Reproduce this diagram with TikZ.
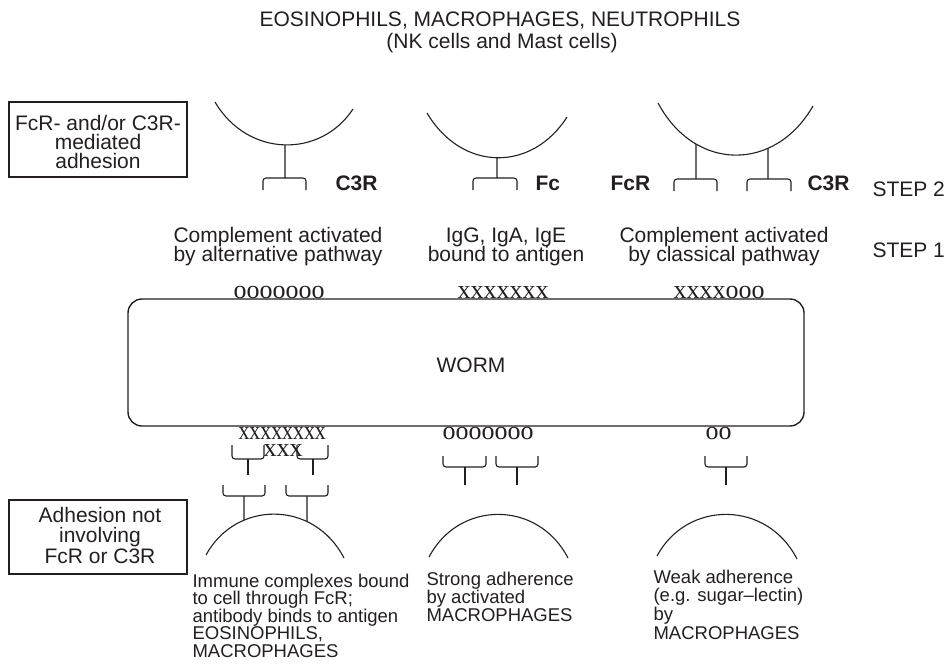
\documentclass[tikz,border=0pt]{standalone}
\usepackage{fontspec}
\setmainfont{Liberation Sans}
\newfontfamily\serifch{Liberation Serif}
\usetikzlibrary{intersections}
\definecolor{ink}{RGB}{35,31,32}
\tikzset{
  lbl/.style={font=\fontsize{21}{19}\selectfont, inner sep=0pt, anchor=base},
  lblw/.style={lbl, anchor=base west},
  sm/.style={font=\fontsize{18.5}{17.5}\selectfont, inner sep=0pt, anchor=base west},
  bl/.style={font=\bfseries\fontsize{21}{19}\selectfont, inner sep=0pt, anchor=base west},
  ser/.style={font=\serifch\fontsize{26}{26}\selectfont, inner sep=0pt, anchor=base west},
  brk/.style={rounded corners=3pt},
  labelbox/.style={draw, line width=1.1pt, inner sep=0pt, minimum width=178pt},
}
\begin{document}
\begin{tikzpicture}[x=1pt, y=-1pt, color=ink, line width=1.1pt]
\useasboundingbox (0,0) rectangle (952,664);

% title
\node[lbl] (t1) at (500,26) {EOSINOPHILS, MACROPHAGES, NEUTROPHILS};
\node[lbl] (t2) at (502,48) {(NK cells and Mast cells)};

% upper label box
\node[labelbox, minimum height=75pt] (box1) at (98,139.5) {};
\node[lbl] (b1a) at (98,130) {FcR- and/or C3R-};
\node[lbl] (b1b) at (98,149) {mediated};
\node[lbl] (b1c) at (98,168) {adhesion};

% lower label box
\node[labelbox, minimum height=74pt] (box2) at (98,537) {};
\node[lbl] (b2a) at (100,522) {Adhesion not};
\node[lbl] (b2b) at (100,542) {involving};
\node[lbl] (b2c) at (100,563) {FcR or C3R};

% upper cells
\draw[name path=cupL] (215,102) .. controls (248,158) and (321,158) .. (353,109);
\draw[name path=cupM] (427,113) .. controls (462,172) and (532,172) .. (567,117);
\draw[name path=cupR] (658,103) .. controls (695,172) and (775,172) .. (813,106);

\path[name path=vL] (285,90) -- (285,180);
\path[name path=vM] (497,90) -- (497,180);
\path[name path=vR1] (696,90) -- (696,180);
\path[name path=vR2] (768,90) -- (768,180);
\draw[name intersections={of=cupL and vL, by=iL}] (iL) -- (285,178);
\draw[name intersections={of=cupM and vM, by=iM}] (iM) -- (497,178);
\draw[name intersections={of=cupR and vR1, by=iR1}] (iR1) -- (696,179);
\draw[name intersections={of=cupR and vR2, by=iR2}] (iR2) -- (768,179);

\draw[brk] (263,190) -- (263,178) -- (306,178) -- (306,190);
\draw[brk] (473,190) -- (473,178) -- (517,178) -- (517,190);
\draw[brk] (674,191) -- (674,179) -- (717,179) -- (717,191);
\draw[brk] (747,191) -- (747,179) -- (791,179) -- (791,191);

\node[bl] (r1) at (335,190) {C3R};
\node[bl] (r2) at (535,190) {Fc};
\node[bl] (r3) at (610,190) {FcR};
\node[bl] (r4) at (807,190) {C3R};

\node[lblw] (st2) at (872,196) {STEP 2};
\node[lblw] (st1) at (872,257) {STEP 1};

% step 1 texts
\node[lbl] (p1a) at (278,242) {Complement activated};
\node[lbl] (p1b) at (278,261) {by alternative pathway};
\node[lbl] (p2a) at (506,242) {IgG, IgA, IgE};
\node[lbl] (p2b) at (506,261) {bound to antigen};
\node[lbl] (p3a) at (724,242) {Complement activated};
\node[lbl] (p3b) at (724,261) {by classical pathway};

% worm
\node[draw, line width=1.4pt, rounded corners=14pt, minimum width=676pt, minimum height=127pt, inner sep=0pt] (worm) at (466,362.5) {};
\node[lbl] (wt) at (471,372) {WORM};

% surface molecules
\node[ser] (s1) at (233,298) {ooooooo};
\node[ser] (s2) at (457,298) {xxxxxxx};
\node[ser] (s3) at (673,298) {xxxxooo};
\node[ser] (s4) at (238,439) {\scalebox{0.84}[1]{xxxxxxxx}};
\node[ser] (s5) at (263,456) {xxx};
\node[ser] (s6) at (442,439) {ooooooo};
\node[ser] (s7) at (705,439) {oo};

% lower brackets
\draw[brk] (232,445) -- (232,459) -- (264,459) -- (264,445);
\draw[brk] (297,445) -- (297,459) -- (328,459) -- (328,445);
\draw (248,459) -- (248,475);
\draw (313,459) -- (313,475);
\draw[brk] (223,485) -- (223,496) -- (265,496) -- (265,485);
\draw[brk] (286,485) -- (286,496) -- (328,496) -- (328,485);
\draw[brk] (443,456) -- (443,467) -- (486,467) -- (486,456);
\draw[brk] (496,456) -- (496,467) -- (538,467) -- (538,456);
\draw (465,467) -- (465,485);
\draw (517,467) -- (517,485);
\draw[brk] (705,456) -- (705,467) -- (747,467) -- (747,456);
\draw (726,467) -- (726,485);

% lower cells
\draw[name path=arcL] (206,555) .. controls (236,500) and (314,500) .. (344,558);
\draw (429,557) .. controls (459,500) and (538,500) .. (568,558);
\draw (657,556) .. controls (687,500) and (767,500) .. (797,559);
\path[name path=wL1] (244,490) -- (244,560);
\path[name path=wL2] (307,490) -- (307,560);
\draw[name intersections={of=arcL and wL1, by=jL1}] (244,496) -- (jL1);
\draw[name intersections={of=arcL and wL2, by=jL2}] (307,496) -- (jL2);

% lower texts
\node[sm] (q1a) at (192,587) {Immune complexes bound};
\node[sm] (q1b) at (192,604.5) {to cell through FcR;};
\node[sm] (q1c) at (192,622) {antibody binds to antigen};
\node[sm] (q1d) at (192,639.5) {EOSINOPHILS,};
\node[sm] (q1e) at (192,657) {MACROPHAGES};
\node[sm] (q2a) at (426,585) {Strong adherence};
\node[sm] (q2b) at (426,603) {by activated};
\node[sm] (q2c) at (426,621) {MACROPHAGES};
\node[sm] (q3a) at (653,583) {Weak adherence};
\node[sm] (q3b) at (653,601.5) {(e.g. sugar–lectin)};
\node[sm] (q3c) at (653,620) {by};
\node[sm] (q3d) at (653,639) {MACROPHAGES};
\end{tikzpicture}
\end{document}
